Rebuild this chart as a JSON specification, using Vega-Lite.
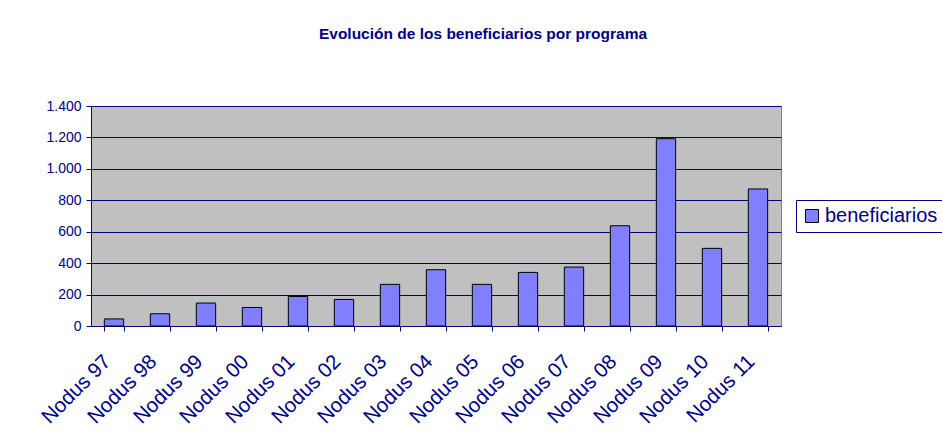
{
  "$schema": "https://vega.github.io/schema/vega-lite/v6.json",
  "autosize": "none",
  "width": 690,
  "height": 220,
  "padding": {"left": 91, "top": 106, "right": 161, "bottom": 111},
  "background": "white",
  "title": {
    "text": "Evolución de los beneficiarios por programa",
    "font": "Liberation Sans",
    "fontSize": 15.5,
    "fontWeight": "bold",
    "color": "#000080",
    "anchor": "middle",
    "dx": 47,
    "offset": 57
  },
  "data": {
    "values": [
      {"programa": "Nodus 97", "beneficiarios": 45, "serie": "beneficiarios"},
      {"programa": "Nodus 98", "beneficiarios": 78, "serie": "beneficiarios"},
      {"programa": "Nodus 99", "beneficiarios": 146, "serie": "beneficiarios"},
      {"programa": "Nodus 00", "beneficiarios": 118, "serie": "beneficiarios"},
      {"programa": "Nodus 01", "beneficiarios": 188, "serie": "beneficiarios"},
      {"programa": "Nodus 02", "beneficiarios": 169, "serie": "beneficiarios"},
      {"programa": "Nodus 03", "beneficiarios": 265, "serie": "beneficiarios"},
      {"programa": "Nodus 04", "beneficiarios": 358, "serie": "beneficiarios"},
      {"programa": "Nodus 05", "beneficiarios": 265, "serie": "beneficiarios"},
      {"programa": "Nodus 06", "beneficiarios": 341, "serie": "beneficiarios"},
      {"programa": "Nodus 07", "beneficiarios": 375, "serie": "beneficiarios"},
      {"programa": "Nodus 08", "beneficiarios": 638, "serie": "beneficiarios"},
      {"programa": "Nodus 09", "beneficiarios": 1192, "serie": "beneficiarios"},
      {"programa": "Nodus 10", "beneficiarios": 494, "serie": "beneficiarios"},
      {"programa": "Nodus 11", "beneficiarios": 872, "serie": "beneficiarios"}
    ]
  },
  "mark": {"type": "bar", "stroke": "#000000", "strokeWidth": 1},
  "encoding": {
    "x": {
      "field": "programa",
      "type": "nominal",
      "sort": null,
      "scale": {"paddingInner": 0.58, "paddingOuter": 0.29},
      "axis": {
        "title": null,
        "labelAngle": -45,
        "labelAlign": "right",
        "labelBaseline": "top",
        "labelFont": "Liberation Sans",
        "labelFontSize": 20.5,
        "labelColor": "#000080",
        "labelOffset": -14,
        "labelPadding": 20,
        "tickBand": "extent",
        "tickColor": "#000080",
        "tickSize": 5,
        "domainColor": "#000080",
        "grid": false,
        "labelOverlap": false
      }
    },
    "y": {
      "field": "beneficiarios",
      "type": "quantitative",
      "scale": {"domain": [0, 1400], "nice": false},
      "axis": {
        "title": null,
        "values": [0, 200, 400, 600, 800, 1000, 1200, 1400],
        "labelExpr": "replace(format(datum.value, ',d'), ',', '.')",
        "labelFont": "Liberation Sans",
        "labelFontSize": 14,
        "labelColor": "#000080",
        "labelPadding": 5,
        "tickColor": "#000080",
        "tickSize": 5,
        "domainColor": "#000080",
        "grid": true,
        "gridColor": "#000080",
        "gridOpacity": 1,
        "gridWidth": 1
      }
    },
    "color": {
      "field": "serie",
      "type": "nominal",
      "scale": {"range": ["#8080FF"]},
      "legend": {
        "title": null,
        "orient": "none",
        "legendX": 705,
        "legendY": 94,
        "strokeColor": "#000080",
        "fillColor": "white",
        "padding": 6,
        "symbolType": "square",
        "symbolSize": 169,
        "symbolStrokeColor": "#000000",
        "symbolStrokeWidth": 1,
        "symbolOpacity": 1,
        "labelFont": "Liberation Sans",
        "labelFontSize": 20,
        "labelColor": "#000080",
        "labelOffset": 3
      }
    }
  },
  "config": {
    "view": {"fill": "#C0C0C0", "stroke": "#808080"}
  }
}
